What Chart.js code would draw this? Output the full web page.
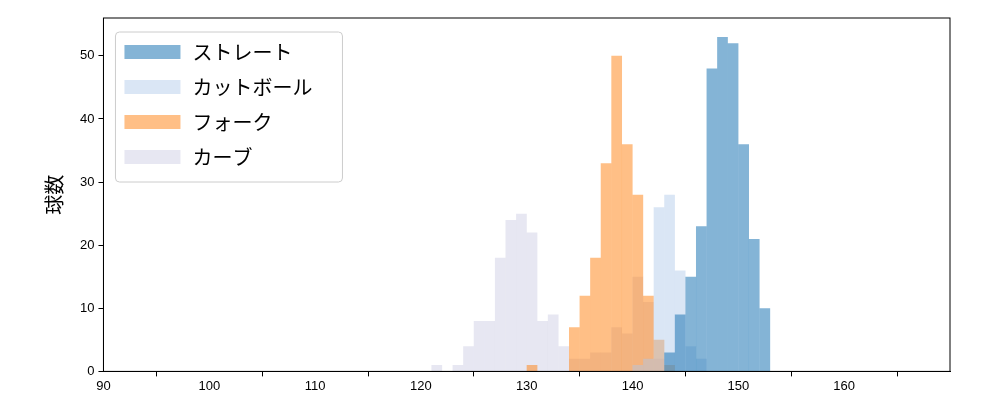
<!DOCTYPE html>
<html><head><meta charset="utf-8">
<script src="https://cdn.jsdelivr.net/npm/chart.js@4"></script>
<style>body{margin:0}#w{width:1000px;height:400px}</style></head>
<body><div id="w"><canvas id="c"></canvas></div>
<script>
const names = ['ストレート', 'カットボール', 'フォーク', 'カーブ'];
const colors = ['rgba(31,119,180,0.55)', 'rgba(174,199,232,0.45)', 'rgba(255,127,14,0.5)', 'rgba(208,208,230,0.5)'];
// bin left edges and counts
const straightBins = [143, 144, 145, 146, 147, 148, 149, 150, 151, 152];
const straightCounts = [3, 9, 15, 23, 48, 53, 52, 36, 21, 10];
const cutBins = [140, 141, 142, 143, 144, 145, 146];
const cutCounts = [1, 2, 26, 28, 16, 4, 2];
const forkBins = [130, 134, 135, 136, 137, 138, 139, 140, 141, 142, 143];
const forkCounts = [1, 7, 12, 18, 33, 50, 36, 28, 12, 5, 1];
const curveBins = [121, 123, 124, 125, 126, 127, 128, 129, 130, 131, 132, 133, 134, 135, 136, 137, 138, 139, 140, 141, 142];
const curveCounts = [1, 1, 4, 8, 8, 18, 24, 25, 22, 8, 9, 4, 2, 2, 3, 3, 7, 6, 15, 11, 2];
const xTicks = [90, 100, 110, 120, 130, 140, 150, 160];
const yTicks = [0, 10, 20, 30, 40, 50];

const bins = [straightBins, cutBins, forkBins, curveBins];
const counts = [straightCounts, cutCounts, forkCounts, curveCounts];
const datasets = names.map((n, i) => ({
  label: n,
  data: bins[i].map((b, j) => ({x: b + 0.5, y: counts[i][j]})),
  backgroundColor: colors[i],
  borderWidth: 0,
  barPercentage: 1.01, categoryPercentage: 1, grouped: false
}));

const legendBox = {
  id: 'legendBox',
  afterDraw(chart) {
    const ctx = chart.ctx, a = chart.chartArea;
    const x0 = a.left + 12, y0 = a.top + 14;
    ctx.save();
    ctx.fillStyle = 'rgba(255,255,255,0.8)';
    ctx.strokeStyle = '#ccc';
    ctx.lineWidth = 1;
    ctx.beginPath();
    ctx.roundRect(x0, y0, 227, 150, 4);
    ctx.fill(); ctx.stroke();
    ctx.font = '20px "Noto Sans CJK JP"';
    ctx.textBaseline = 'middle';
    names.forEach((n, i) => {
      const y = y0 + 20 + i * 35;
      ctx.fillStyle = colors[i];
      ctx.fillRect(x0 + 9, y - 7, 56, 14);
      ctx.fillStyle = '#000';
      ctx.fillText(n, x0 + 77, y);
    });
    ctx.restore();
  }
};

const axisGrid = {display: true, drawOnChartArea: false, tickLength: 5, color: '#000'};

new Chart(document.getElementById('c'), {
  type: 'bar',
  data: {datasets},
  options: {
    responsive: true, maintainAspectRatio: false, animation: false,
    layout: {padding: {top: 18, right: 50, left: 32, bottom: 4}},
    plugins: {legend: {display: false}, tooltip: {enabled: false}},
    scales: {
      x: {
        type: 'linear', min: 90, max: 170, offset: false,
        grid: axisGrid,
        border: {color: '#000'},
        afterBuildTicks: s => { s.ticks = xTicks.map(v => ({value: v})); },
        ticks: {color: '#000', font: {size: 13}, padding: 2}
      },
      y: {
        min: 0, max: 56,
        grid: axisGrid,
        border: {color: '#000'},
        afterBuildTicks: s => { s.ticks = yTicks.map(v => ({value: v})); },
        ticks: {color: '#000', font: {size: 13}, padding: 4},
        title: {display: true, text: '球数', color: '#000', padding: 10, font: {size: 20, family: '"Noto Sans CJK JP"'}}
      }
    }
  },
  plugins: [legendBox, {
    id: 'frame',
    afterDraw(chart) {
      const c = chart.ctx, a = chart.chartArea;
      c.save(); c.strokeStyle = '#000'; c.lineWidth = 1;
      c.strokeRect(a.left, a.top, a.right - a.left, a.bottom - a.top);
      c.restore();
    }
  }]
});
</script></body></html>
